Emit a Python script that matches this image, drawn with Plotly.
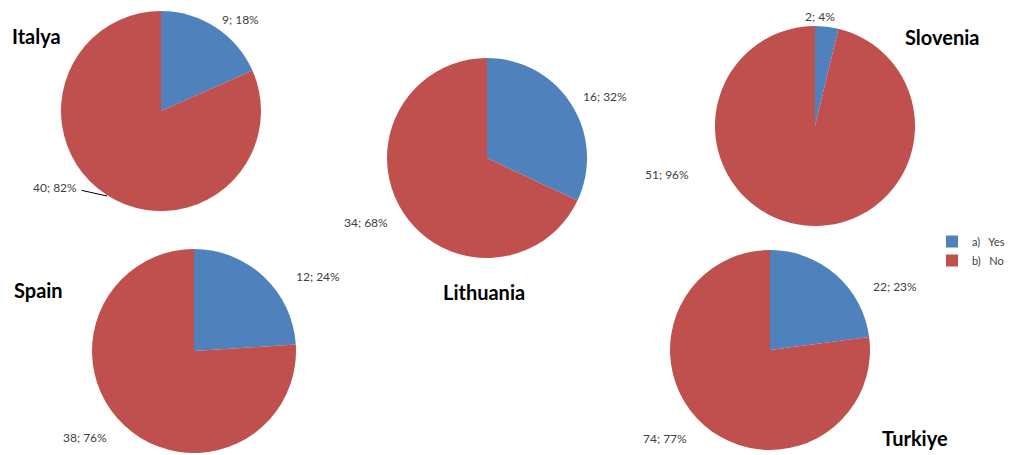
import plotly.graph_objects as go

# DATA --------------------------------------------------------------------
countries = ["Italya", "Lithuania", "Slovenia", "Spain", "Turkiye"]
answers = ["a)\u00a0\u00a0\u00a0Yes", "b)\u00a0\u00a0\u00a0No"]
yes_counts = [9, 16, 2, 12, 22]
no_counts = [40, 34, 51, 38, 74]

colors = ["#4F81BD", "#C0504D"]
W, H = 1014, 455
OFF = 8  # page body margin, the figure is drawn 8px in from the corner

# pie centre (px), radius (px), title pos, yes-label pos, no-label pos
layout_px = {
    "Italya": dict(c=(161, 111), r=100, title=(36, 36), yes=(240, 19), no=(55, 188)),
    "Lithuania": dict(c=(487, 158), r=100, title=(484, 292), yes=(605, 97), no=(366, 222)),
    "Slovenia": dict(c=(815, 126), r=100, title=(942, 37), yes=(820, 16), no=(667, 174)),
    "Spain": dict(c=(194, 351), r=102, title=(38, 290), yes=(318, 276), no=(85, 437)),
    "Turkiye": dict(c=(770, 350), r=100, title=(915, 438), yes=(895, 286), no=(665, 438)),
}


def px_x(x):
    return (x - OFF) / W


def px_y(y):
    return 1 - (y - OFF) / H


fig = go.Figure()
annotations = []

for i, name in enumerate(countries):
    p = layout_px[name]
    cx, cy = p["c"]
    r = p["r"]
    vals = [yes_counts[i], no_counts[i]]
    total = sum(vals)
    fig.add_trace(
        go.Pie(
            labels=answers,
            values=vals,
            sort=False,
            direction="clockwise",
            rotation=0,
            textinfo="none",
            hoverinfo="skip",
            marker=dict(colors=colors, line=dict(width=0)),
            domain=dict(
                x=[px_x(cx - r), px_x(cx + r)],
                y=[px_y(cy + r), px_y(cy - r)],
            ),
            showlegend=(i == 0),
        )
    )
    # title
    tx, ty = p["title"]
    annotations.append(
        dict(
            x=px_x(tx), y=px_y(ty), xref="paper", yref="paper",
            xanchor="center", yanchor="middle",
            text="<b>%s</b>" % name, showarrow=False,
            font=dict(family="Lato, Open Sans, sans-serif", size=20, color="#000000"),
        )
    )
    # data labels
    for key, v in zip(["yes", "no"], vals):
        lx, ly = p[key]
        annotations.append(
            dict(
                x=px_x(lx), y=px_y(ly), xref="paper", yref="paper",
                xanchor="center", yanchor="middle",
                text="%d; %d%%" % (v, round(100 * v / total)), showarrow=False,
                font=dict(family="Lato, Open Sans, sans-serif", size=12, color="#404040"),
            )
        )

# leader line for Italya "no" label
annotations.append(
    dict(
        x=px_x(107), y=px_y(196), xref="paper", yref="paper",
        ax=-27, ay=-6,
        showarrow=True, arrowhead=0, arrowwidth=1, arrowcolor="#000000", text="",
    )
)

fig.update_layout(
    width=W,
    height=H,
    margin=dict(l=0, r=0, t=0, b=0),
    paper_bgcolor="white",
    plot_bgcolor="white",
    annotations=annotations,
    legend=dict(
        x=px_x(932), y=px_y(227), xanchor="left", yanchor="top",
        font=dict(family="Lato, Open Sans, sans-serif", size=11, color="#404040"),
        tracegroupgap=0, itemwidth=30,
        bgcolor="rgba(0,0,0,0)",
    ),
)

fig.write_html("out.html")
